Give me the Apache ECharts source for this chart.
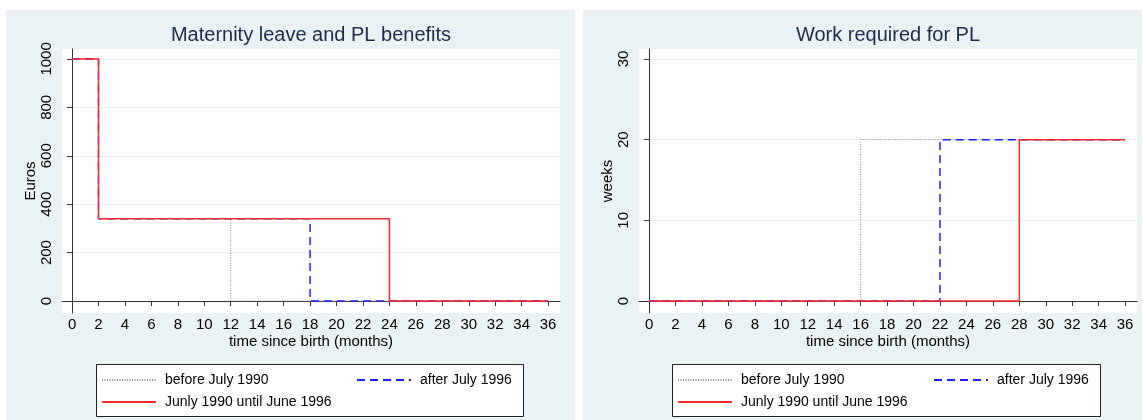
<!DOCTYPE html>
<html>
<head>
<meta charset="utf-8">
<script src="https://cdn.jsdelivr.net/npm/echarts@6/dist/echarts.min.js"></script>
<style>
  body { margin: 0; background: #fff; width: 1142px; height: 420px; position: relative; overflow: hidden; }
  .panel { position: absolute; top: 10px; height: 410px; background: #eaf2f3; }
</style>
</head>
<body>
<div id="leftChart" class="panel" style="left:6px;width:569px;"></div>
<div id="rightChart" class="panel" style="left:583px;width:559px;"></div>
<script>
// ---- data ----
const monthTicks = [0, 2, 4, 6, 8, 10, 12, 14, 16, 18, 20, 22, 24, 26, 28, 30, 32, 34, 36];
const euroTicks = [0, 200, 400, 600, 800, 1000];
const weekTicks = [0, 10, 20, 30];

const seriesNames = ["before July 1990", "Junly 1990 until June 1996", "after July 1996"];

// benefits (Euros), step points
const benefitBefore1990Months = [0, 2, 12, 36];
const benefitBefore1990Euros = [1000, 340, 0, 0];
const benefitAfter1996Months = [0, 2, 18, 36];
const benefitAfter1996Euros = [1000, 340, 0, 0];
const benefit1990to1996Months = [0, 2, 24, 36];
const benefit1990to1996Euros = [1000, 340, 0, 0];

// work required (weeks), step points
const workBefore1990Months = [0, 16, 36];
const workBefore1990Weeks = [0, 20, 20];
const workAfter1996Months = [0, 22, 36];
const workAfter1996Weeks = [0, 20, 20];
const work1990to1996Months = [0, 28, 36];
const work1990to1996Weeks = [0, 20, 20];

const FONT = "Liberation Sans, Arial, sans-serif";

function pairs(xs, ys) {
  return xs.map((x, i) => [x, ys[i]]);
}

function stepSeries(name, xs, ys, color, type, width) {
  return {
    name: name,
    type: "line",
    step: "end",
    symbol: "none",
    animation: false,
    lineStyle: { color: color, type: type, width: width },
    itemStyle: { color: color },
    data: pairs(xs, ys)
  };
}

function legendBlock(names, left) {
  return {
    data: names,
    orient: "vertical",
    left: left,
    top: 358,
    itemWidth: 54,
    itemHeight: 14,
    itemGap: 8,
    selectedMode: false,
    // hide the symbol, keep only the line
    itemStyle: { color: "transparent", borderColor: "transparent", borderWidth: 0 },
    textStyle: { fontFamily: FONT, fontSize: 14, color: "#000", padding: [0, 0, 0, 4] }
  };
}

function buildOption(cfg) {
  return {
    textStyle: { fontFamily: FONT },
    title: {
      text: cfg.title,
      left: cfg.titleX,
      top: 10,
      textAlign: "center",
      textStyle: { fontFamily: FONT, fontSize: 20, fontWeight: "normal", color: "#1c2b4a" }
    },
    grid: {
      left: 56, right: cfg.gridRight, top: 39, bottom: 107,
      show: true, backgroundColor: "#fff", borderWidth: 0
    },
    xAxis: {
      type: "value",
      min: -0.76,
      max: 36.9,
      name: "time since birth (months)",
      nameLocation: "middle",
      nameGap: 21,
      nameMoveOverlap: false,
      nameTextStyle: { fontFamily: FONT, fontSize: 15, color: "#000" },
      axisLine: { lineStyle: { color: "#333", width: 1 } },
      axisTick: { length: 5, lineStyle: { color: "#333" }, customValues: monthTicks },
      axisLabel: { fontFamily: FONT, fontSize: 15, color: "#000", margin: 4, customValues: monthTicks },
      splitLine: { show: false }
    },
    yAxis: {
      type: "value",
      min: cfg.yMin,
      max: cfg.yMax,
      name: cfg.yName,
      nameLocation: "middle",
      nameRotate: 90,
      nameGap: 24,
      nameMoveOverlap: false,
      nameTextStyle: { fontFamily: FONT, fontSize: 15, color: "#000" },
      axisLine: { show: true, lineStyle: { color: "#333", width: 1 } },
      axisTick: { show: true, length: 5, lineStyle: { color: "#333" }, customValues: cfg.yTicks },
      axisLabel: {
        fontFamily: FONT, fontSize: 15, color: "#000", rotate: 90, margin: 8,
        customValues: cfg.yTicks,
        formatter: v => String(v)
      },
      splitLine: { show: true, lineStyle: { color: "#eaf2f3", width: 1 } }
    },
    legend: [
      legendBlock([seriesNames[0], seriesNames[1]], cfg.legendLeftA),
      legendBlock([seriesNames[2]], cfg.legendLeftB)
    ],
    // legend frame
    graphic: [{
      type: "rect",
      left: cfg.boxLeft, top: 354,
      shape: { width: cfg.boxWidth, height: 52 },
      style: { fill: "#fff", stroke: "#222", lineWidth: 1 },
      z: -1
    }],
    series: cfg.series
  };
}

let left = echarts.init(document.getElementById("leftChart"));
left.setOption(buildOption({
  title: "Maternity leave and PL benefits",
  titleX: 300,
  gridRight: 15,
  yMin: -49.6,
  yMax: 1041,
  yName: "Euros",
  yTicks: euroTicks,
  legendLeftA: 90,
  legendLeftB: 345,
  boxLeft: 90,
  boxWidth: 427,
  series: [
    stepSeries(seriesNames[0], benefitBefore1990Months, benefitBefore1990Euros, "#8a8a8a", [1, 1.5], 1),
    stepSeries(seriesNames[2], benefitAfter1996Months, benefitAfter1996Euros, "#2020ff", [8, 5], 1.5),
    stepSeries(seriesNames[1], benefit1990to1996Months, benefit1990to1996Euros, "#ff2a2a", "solid", 1.5)
  ]
}));

let right = echarts.init(document.getElementById("rightChart"));
right.setOption(buildOption({
  title: "Work required for PL",
  titleX: 300,
  gridRight: 5,
  yMin: -1.49,
  yMax: 31.24,
  yName: "weeks",
  yTicks: weekTicks,
  legendLeftA: 89,
  legendLeftB: 345,
  boxLeft: 89,
  boxWidth: 428,
  series: [
    stepSeries(seriesNames[0], workBefore1990Months, workBefore1990Weeks, "#8a8a8a", [1, 1.5], 1),
    stepSeries(seriesNames[2], workAfter1996Months, workAfter1996Weeks, "#2020ff", [8, 5], 1.5),
    stepSeries(seriesNames[1], work1990to1996Months, work1990to1996Weeks, "#ff2a2a", "solid", 1.5)
  ]
}));
</script>
</body>
</html>
